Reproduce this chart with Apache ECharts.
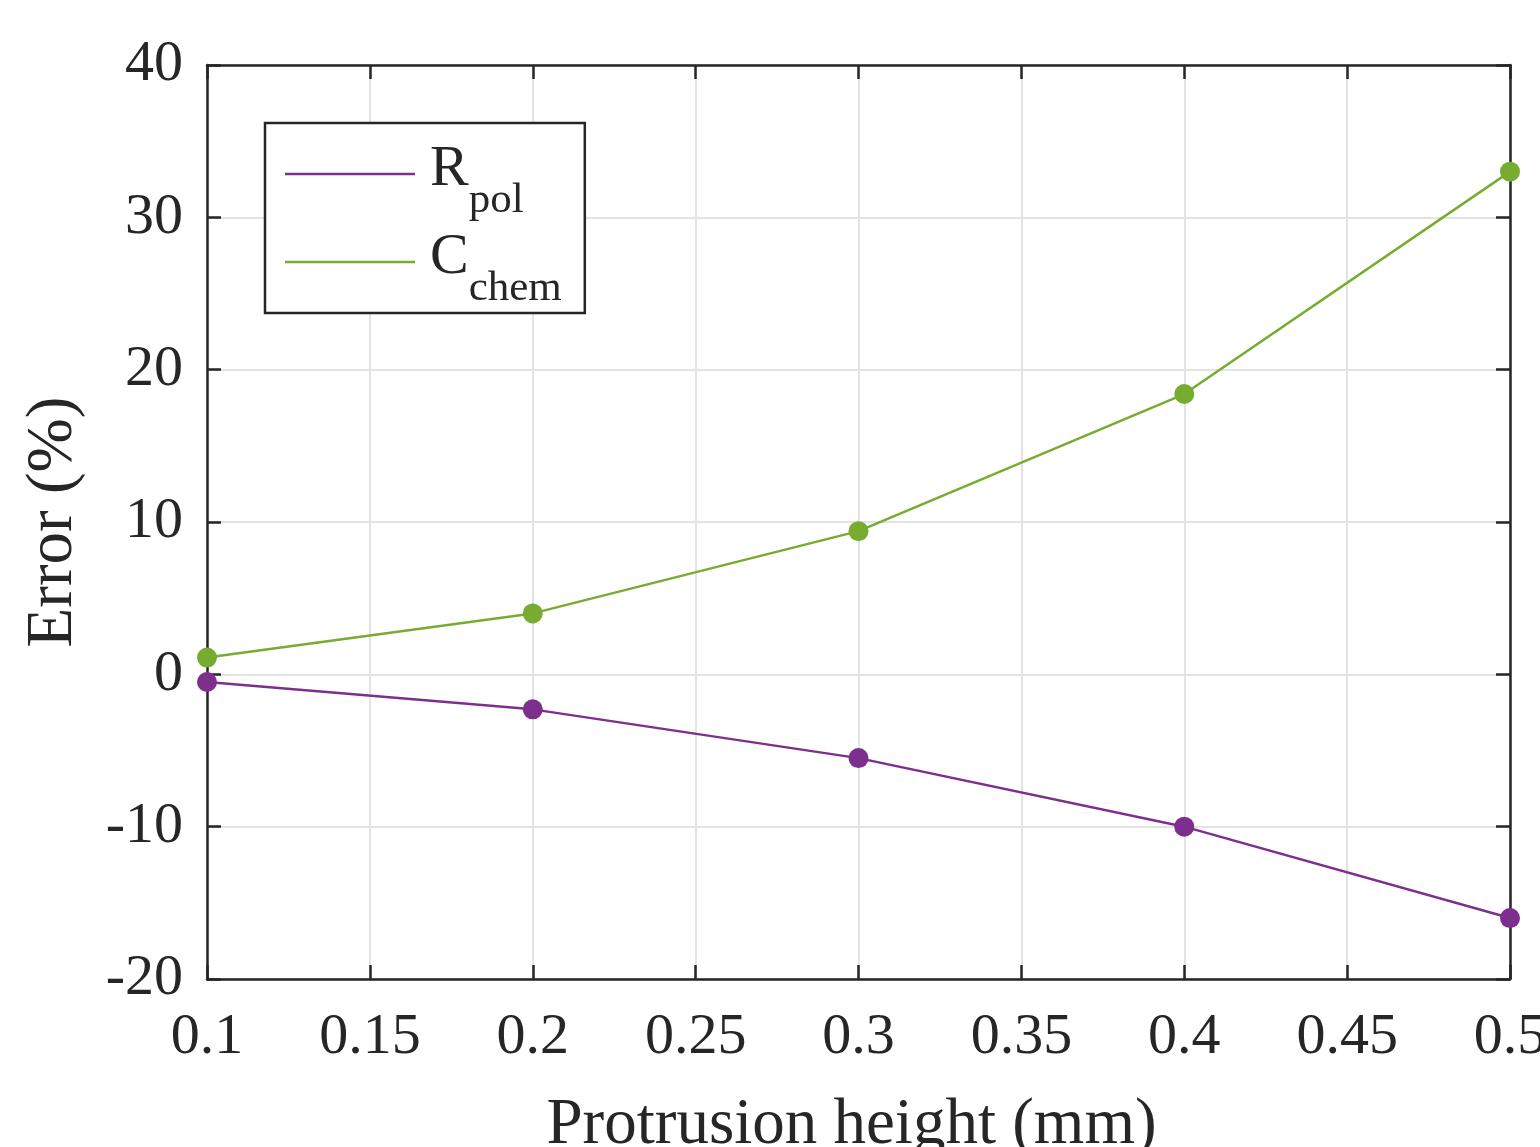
<!DOCTYPE html>
<html>
<head>
<meta charset="utf-8">
<script src="https://cdn.jsdelivr.net/npm/echarts@6/dist/echarts.min.js"></script>
<style>html,body{margin:0;padding:0;background:#fff}#c{width:1540px;height:1147px}</style>
</head>
<body>
<div id="c"></div>
<script>
const heights = [0.1, 0.2, 0.3, 0.4, 0.5];
const rpol = [-0.5, -2.3, -5.5, -10.0, -16.0];
const cchem = [1.1, 4.0, 9.4, 18.4, 33.0];
const xTicks = [0.1, 0.15, 0.2, 0.25, 0.3, 0.35, 0.4, 0.45, 0.5];
const yTicks = [-20, -10, 0, 10, 20, 30, 40];

const FONT = 'Liberation Serif';
const INK = '#262626';
const chart = echarts.init(document.getElementById('c'));

function pairs(xs, ys) { return xs.map((x, i) => [x, ys[i]]); }

function axisBase() {
  return {
    axisLine: { show: true, onZero: false, lineStyle: { color: INK, width: 2.5 } },
    axisTick: { show: true, inside: true, length: 14, lineStyle: { color: INK, width: 2.5 } },
  };
}

chart.setOption({
  backgroundColor: '#fff',
  animation: false,
  grid: { left: 207, right: 30, top: 65, bottom: 168, containLabel: false, outerBoundsMode: 'none' },
  xAxis: [
    Object.assign({
      type: 'value', min: 0.1, max: 0.5, interval: 0.05, position: 'bottom',
      name: 'Protrusion height (mm)', nameLocation: 'middle', nameGap: 114,
      nameTextStyle: { fontFamily: FONT, fontSize: 65, color: INK, padding: [0, 14, 0, 0] },
      axisLabel: { fontFamily: FONT, fontSize: 58, color: INK, margin: 30,
        formatter: v => { const m = xTicks.find(t => Math.abs(t - v) < 1e-9); return m === undefined ? '' : String(m); } },
      splitLine: { show: true, lineStyle: { color: '#e3e3e3', width: 2 } },
    }, axisBase()),
    Object.assign({
      type: 'value', min: 0.1, max: 0.5, interval: 0.05, position: 'top',
      axisLabel: { show: false }, splitLine: { show: false },
    }, axisBase()),
  ],
  yAxis: [
    Object.assign({
      type: 'value', min: -20, max: 40, interval: 10, position: 'left',
      name: 'Error (%)', nameLocation: 'middle', nameGap: 121, nameRotate: 90,
      nameTextStyle: { fontFamily: FONT, fontSize: 65, color: INK },
      axisLabel: { fontFamily: FONT, fontSize: 58, color: INK, margin: 24,
        formatter: v => { const m = yTicks.find(t => t === v); return m === undefined ? '' : String(m); } },
      splitLine: { show: true, lineStyle: { color: '#e3e3e3', width: 2 } },
    }, axisBase()),
    Object.assign({
      type: 'value', min: -20, max: 40, interval: 10, position: 'right',
      axisLabel: { show: false }, splitLine: { show: false },
    }, axisBase()),
  ],
  legend: {
    left: 265, top: 123, orient: 'vertical',
    backgroundColor: '#fff', borderColor: INK, borderWidth: 2.5, borderRadius: 0,
    padding: [3, 23, 3, 20],
    itemWidth: 130, itemHeight: 2.5, itemGap: -8, icon: 'rect',
    data: ['Rpol', 'Cchem'],
    formatter: n => n === 'Rpol' ? '{b|R}{s|pol}' : '{b|C}{s|chem}',
    textStyle: {
      fontFamily: FONT, color: INK,
      rich: {
        b: { fontFamily: FONT, fontSize: 58, color: INK, verticalAlign: 'top', lineHeight: 60, padding: [15, 0, 0, 10] },
        s: { fontFamily: FONT, fontSize: 43, color: INK, verticalAlign: 'bottom', lineHeight: 96 },
      },
    },
  },
  series: [
    { name: 'Rpol', type: 'line', data: pairs(heights, rpol), color: '#7E2F8E',
      symbol: 'circle', symbolSize: 20, lineStyle: { width: 2.5 }, z: 3 },
    { name: 'Cchem', type: 'line', data: pairs(heights, cchem), color: '#77AC30',
      symbol: 'circle', symbolSize: 20, lineStyle: { width: 2.5 }, z: 3 },
  ],
});
</script>
</body>
</html>
